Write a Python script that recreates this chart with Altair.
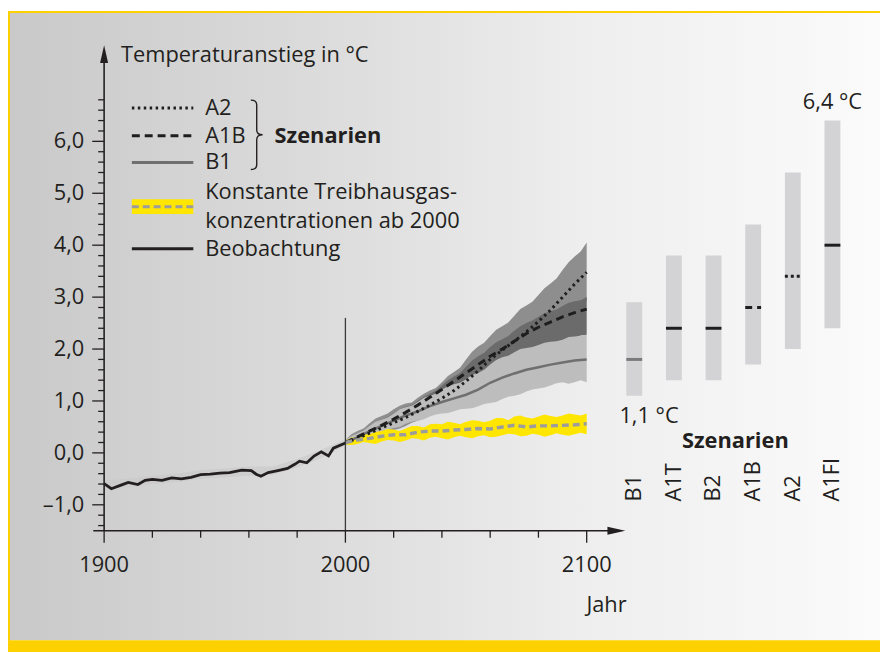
import altair as alt
import pandas as pd

# ---------------- data ----------------
obs_years = [1900, 1903, 1907, 1910, 1914, 1917, 1920, 1924, 1928, 1932, 1936, 1940,
             1944, 1948, 1952, 1957, 1961, 1963, 1965, 1968, 1972, 1976, 1979, 1981,
             1984, 1987, 1990, 1993, 1995, 2000]
obs_vals = [-0.59, -0.69, -0.62, -0.57, -0.61, -0.53, -0.51, -0.53, -0.48, -0.50, -0.47, -0.42,
            -0.41, -0.39, -0.38, -0.33, -0.34, -0.41, -0.45, -0.38, -0.34, -0.30, -0.22, -0.16,
            -0.19, -0.06, 0.02, -0.06, 0.09, 0.19]

obs_band_years = [1900, 1910, 1920, 1930, 1940, 1950, 1960, 1970, 1980, 1990, 2000]
obs_band_lo = [-0.68, -0.66, -0.60, -0.56, -0.50, -0.47, -0.44, -0.42, -0.28, -0.10, 0.14]
obs_band_hi = [-0.52, -0.50, -0.44, -0.40, -0.33, -0.30, -0.26, -0.26, -0.12, 0.06, 0.26]

# scenario means (5-year steps)
proj_years = [2000, 2005, 2010, 2015, 2020, 2025, 2030, 2035, 2040, 2045, 2050,
              2055, 2060, 2065, 2070, 2075, 2080, 2085, 2090, 2095, 2100]
a2_mean = [0.20, 0.28, 0.38, 0.48, 0.58, 0.68, 0.80, 0.92, 1.05, 1.20, 1.38,
           1.58, 1.80, 1.98, 2.15, 2.33, 2.53, 2.75, 3.00, 3.25, 3.48]
a1b_mean = [0.20, 0.31, 0.42, 0.53, 0.65, 0.78, 0.92, 1.07, 1.22, 1.38, 1.54,
            1.70, 1.86, 2.00, 2.15, 2.30, 2.42, 2.52, 2.62, 2.70, 2.77]
b1_mean = [0.20, 0.30, 0.42, 0.52, 0.62, 0.72, 0.80, 0.90, 0.98, 1.05, 1.12,
           1.22, 1.35, 1.45, 1.53, 1.60, 1.65, 1.70, 1.74, 1.78, 1.80]
const_mean = [0.20, 0.25, 0.28, 0.32, 0.35, 0.35, 0.40, 0.42, 0.42, 0.44, 0.45,
              0.47, 0.46, 0.50, 0.53, 0.50, 0.52, 0.52, 0.53, 0.54, 0.56]

# spread bands (2.5-year steps)
band_years = [2000, 2002.5, 2005, 2007.5, 2010, 2012.5, 2015, 2017.5, 2020, 2022.5, 2025,
              2027.5, 2030, 2032.5, 2035, 2037.5, 2040, 2042.5, 2045, 2047.5, 2050,
              2052.5, 2055, 2057.5, 2060, 2062.5, 2065, 2067.5, 2070, 2072.5, 2075,
              2077.5, 2080, 2082.5, 2085, 2087.5, 2090, 2092.5, 2095, 2097.5, 2100]
a2_lo = [0.15, 0.16, 0.20, 0.25, 0.28, 0.30, 0.36, 0.41, 0.44, 0.47, 0.52, 0.58, 0.62, 0.66,
         0.72, 0.78, 0.82, 0.86, 0.95, 1.04, 1.10, 1.17, 1.28, 1.38, 1.46, 1.52, 1.62, 1.70,
         1.76, 1.82, 1.92, 2.02, 2.08, 2.16, 2.28, 2.41, 2.50, 2.58, 2.72, 2.84, 2.92]
a2_hi = [0.25, 0.36, 0.42, 0.47, 0.57, 0.66, 0.71, 0.76, 0.84, 0.91, 0.95, 0.97, 1.06, 1.14,
         1.20, 1.25, 1.36, 1.48, 1.56, 1.64, 1.80, 1.95, 2.05, 2.12, 2.25, 2.37, 2.44, 2.51,
         2.64, 2.77, 2.84, 2.91, 3.04, 3.17, 3.26, 3.36, 3.52, 3.67, 3.78, 3.88, 4.05]
a1b_lo = [0.16, 0.18, 0.24, 0.30, 0.33, 0.36, 0.42, 0.49, 0.52, 0.55, 0.62, 0.69, 0.74, 0.78,
          0.86, 0.93, 0.98, 1.02, 1.10, 1.18, 1.24, 1.29, 1.38, 1.46, 1.52, 1.56, 1.64, 1.72,
          1.77, 1.81, 1.90, 1.97, 2.00, 2.02, 2.08, 2.14, 2.16, 2.17, 2.22, 2.26, 2.27]
a1b_hi = [0.24, 0.33, 0.38, 0.43, 0.51, 0.59, 0.64, 0.69, 0.77, 0.84, 0.89, 0.92, 1.00, 1.08,
          1.14, 1.20, 1.30, 1.40, 1.47, 1.54, 1.66, 1.78, 1.86, 1.93, 2.04, 2.13, 2.19, 2.25,
          2.35, 2.44, 2.50, 2.55, 2.62, 2.69, 2.73, 2.76, 2.83, 2.89, 2.92, 2.94, 3.00]
b1_lo = [0.15, 0.17, 0.22, 0.28, 0.32, 0.34, 0.40, 0.45, 0.48, 0.50, 0.56, 0.60, 0.62, 0.65,
         0.70, 0.74, 0.76, 0.77, 0.80, 0.84, 0.85, 0.86, 0.90, 0.94, 0.96, 0.98, 1.04, 1.08,
         1.10, 1.13, 1.18, 1.22, 1.24, 1.26, 1.30, 1.34, 1.36, 1.33, 1.36, 1.40, 1.36]
b1_hi = [0.25, 0.33, 0.38, 0.43, 0.52, 0.60, 0.64, 0.68, 0.76, 0.84, 0.88, 0.91, 0.98, 1.06,
         1.10, 1.14, 1.22, 1.28, 1.32, 1.35, 1.42, 1.50, 1.54, 1.60, 1.70, 1.79, 1.84, 1.87,
         1.94, 2.00, 2.02, 2.04, 2.08, 2.12, 2.14, 2.15, 2.18, 2.23, 2.24, 2.25, 2.28]
const_lo = [0.16, 0.15, 0.17, 0.21, 0.19, 0.17, 0.22, 0.25, 0.24, 0.21, 0.24, 0.28, 0.27, 0.24,
            0.29, 0.31, 0.28, 0.26, 0.30, 0.33, 0.30, 0.28, 0.32, 0.34, 0.30, 0.31, 0.34, 0.37,
            0.36, 0.32, 0.33, 0.37, 0.35, 0.31, 0.34, 0.38, 0.35, 0.33, 0.36, 0.39, 0.36]
const_hi = [0.24, 0.29, 0.31, 0.36, 0.36, 0.40, 0.42, 0.46, 0.45, 0.42, 0.47, 0.52, 0.52, 0.49,
            0.55, 0.56, 0.55, 0.60, 0.58, 0.55, 0.60, 0.63, 0.62, 0.59, 0.62, 0.67, 0.67, 0.63,
            0.70, 0.72, 0.68, 0.66, 0.70, 0.74, 0.71, 0.69, 0.72, 0.76, 0.74, 0.72, 0.76]

scenarios = ["B1", "A1T", "B2", "A1B", "A2", "A1FI"]
scen_low = [1.1, 1.4, 1.4, 1.7, 2.0, 2.4]
scen_high = [2.9, 3.8, 3.8, 4.4, 5.4, 6.4]
scen_best = [1.8, 2.4, 2.4, 2.8, 3.4, 4.0]

ytick_major = [-1, 0, 1, 2, 3, 4, 5, 6]
ytick_labels = ["–1,0", "0,0", "1,0", "2,0", "3,0", "4,0", "5,0", "6,0"]
ytick_minor = [v / 10 for v in range(-14, 70, 2) if v % 10 != 0]
xtick_major = [1900, 2000, 2100]
xtick_labels = ["1900", "2000", "2100"]
xtick_minor = [1920, 1940, 1960, 1980, 2020, 2040, 2060, 2080]

# ---------------- layout ----------------
W, H = 880, 647
X0_PX, PX_YR = 97, 2.435      # plot-x of 1900, pixels per year
Y0_PX, PX_C = 446, 52.4       # plot-y of 0 °C, pixels per °C
XAXIS_V = -1.5                # value where the x axis sits
xs = alt.Scale(domain=[1900 - X0_PX / PX_YR, 1900 + (W - X0_PX) / PX_YR], nice=False, zero=False)
ys = alt.Scale(domain=[(Y0_PX - H) / PX_C, Y0_PX / PX_C], nice=False, zero=False)
SLOT0, SLOT_W = 632, 40
ss = alt.Scale(domain=[-SLOT0 / SLOT_W, (W - SLOT0) / SLOT_W], nice=False, zero=False)

INK = "#231f20"
FONT = "Open Sans"
FS = 22
one = pd.DataFrame({"k": [0]})


def X(f):
    return alt.X(f, scale=xs, axis=None)


def Y(f):
    return alt.Y(f, scale=ys, axis=None)


def txt(s, x, y, align="left", bold=False, size=FS, **kw):
    return alt.Chart(one).mark_text(
        text=s, font=FONT, fontSize=size, color=INK, align=align, baseline="middle",
        fontWeight="bold" if bold else "normal", **kw
    ).encode(x=alt.value(x), y=alt.value(y))


layers = []

# background + borders
grad = alt.Gradient(gradient="linear", x1=0, x2=1, y1=0, y2=0, stops=[
    alt.GradientStop(color="#c9c9c9", offset=0),
    alt.GradientStop(color="#dddddd", offset=0.38),
    alt.GradientStop(color="#eeeeee", offset=0.66),
    alt.GradientStop(color="#fbfbfb", offset=1)])
layers.append(alt.Chart(one).mark_rect(fill=grad).encode(
    x=alt.value(2), x2=alt.value(W), y=alt.value(2), y2=alt.value(635)))
YEL = "#fdd000"
layers.append(alt.Chart(one).mark_rect(color=YEL).encode(
    x=alt.value(0), x2=alt.value(W), y=alt.value(0), y2=alt.value(2)))
layers.append(alt.Chart(one).mark_rect(color=YEL).encode(
    x=alt.value(0), x2=alt.value(2), y=alt.value(0), y2=alt.value(H)))
layers.append(alt.Chart(one).mark_rect(color=YEL).encode(
    x=alt.value(0), x2=alt.value(W), y=alt.value(635), y2=alt.value(H)))

# observation spread band
obs_band = pd.DataFrame({"year": obs_band_years, "lo": obs_band_lo, "hi": obs_band_hi})
layers.append(alt.Chart(obs_band).mark_area(color="#c8c8c8", opacity=0.6).encode(
    x=X("year:Q"), y=Y("lo:Q"), y2="hi:Q"))


# projection bands
def band(lo, hi, color):
    df = pd.DataFrame({"year": band_years, "lo": lo, "hi": hi})
    return alt.Chart(df).mark_area(color=color, opacity=1).encode(
        x=X("year:Q"), y=Y("lo:Q"), y2="hi:Q")


layers.append(band(a2_lo, a2_hi, "#8e8e8e"))
layers.append(band(a1b_lo, a1b_hi, "#6b6b6b"))
layers.append(band(b1_lo, b1_hi, "#bdbdbd"))
layers.append(band(const_lo, const_hi, "#ffe600"))


# projection lines
def pline(vals, color, dash=None, width=3):
    df = pd.DataFrame({"year": proj_years, "v": vals})
    kw = {"strokeDash": dash} if dash else {}
    return alt.Chart(df).mark_line(color=color, strokeWidth=width, **kw).encode(
        x=X("year:Q"), y=Y("v:Q"))


layers.append(pline(b1_mean, "#6f6f6f", width=2.5))
layers.append(pline(a1b_mean, "#1e1e1e", dash=[8, 5]))
layers.append(pline(a2_mean, "#1e1e1e", dash=[2.5, 3.5]))
layers.append(pline(const_mean, "#9c9c9c", dash=[7, 4], width=3.5))

# observations
obs = pd.DataFrame({"year": obs_years, "v": obs_vals})
layers.append(alt.Chart(obs).mark_line(color=INK, strokeWidth=2.8).encode(
    x=X("year:Q"), y=Y("v:Q")))

# vertical line at 2000
vline = pd.DataFrame({"year": [2000], "y0": [XAXIS_V], "y1": [2.6]})
layers.append(alt.Chart(vline).mark_rule(color="#3a3a3a", strokeWidth=1.3).encode(
    x=X("year:Q"), y=Y("y0:Q"), y2="y1:Q"))

# axes lines
yax = pd.DataFrame({"year": [1900], "y0": [XAXIS_V], "y1": [7.6]})
layers.append(alt.Chart(yax).mark_rule(color=INK, strokeWidth=1.6).encode(
    x=X("year:Q"), y=Y("y0:Q"), y2="y1:Q"))
xax = pd.DataFrame({"x0": [1895.5], "x1": [2112], "y": [XAXIS_V]})
layers.append(alt.Chart(xax).mark_rule(color=INK, strokeWidth=1.6).encode(
    x=X("x0:Q"), x2="x1:Q", y=Y("y:Q")))
# arrow heads
arr_up = pd.DataFrame({"year": [1900], "v": [7.68]})
layers.append(alt.Chart(arr_up).mark_point(
    shape="M0,-1L0.45,1L-0.45,1Z", size=324, filled=True, opacity=1, color=INK).encode(
    x=X("year:Q"), y=Y("v:Q")))
arr_rt = pd.DataFrame({"year": [2112.3], "v": [XAXIS_V]})
layers.append(alt.Chart(arr_rt).mark_point(
    shape="M1,0L-1,-0.45L-1,0.45Z", size=324, filled=True, opacity=1, color=INK).encode(
    x=X("year:Q"), y=Y("v:Q")))

# y ticks
yt = pd.DataFrame({"v": ytick_major + ytick_minor,
                   "len": [12] * len(ytick_major) + [6] * len(ytick_minor)})
layers.append(alt.Chart(yt).transform_calculate(
    x0=f"1900 - datum.len / {PX_YR}", x1="1900").mark_rule(color=INK, strokeWidth=1.3).encode(
    x=X("x0:Q"), x2="x1:Q", y=Y("v:Q")))
ytl = pd.DataFrame({"v": ytick_major, "t": ytick_labels})
layers.append(alt.Chart(ytl).mark_text(font=FONT, fontSize=FS, color=INK, align="right",
                                       baseline="middle").encode(
    x=alt.value(77), y=Y("v:Q"), text="t:N"))

# x ticks
xt = pd.DataFrame({"year": xtick_major + xtick_minor,
                   "len": [12] * len(xtick_major) + [7] * len(xtick_minor)})
layers.append(alt.Chart(xt).transform_calculate(
    y0=f"{XAXIS_V}", y1=f"{XAXIS_V} - datum.len / {PX_C}").mark_rule(color=INK, strokeWidth=1.3).encode(
    x=X("year:Q"), y=Y("y0:Q"), y2="y1:Q"))
xtl = pd.DataFrame({"year": xtick_major, "t": xtick_labels})
layers.append(alt.Chart(xtl).mark_text(font=FONT, fontSize=FS, color=INK, align="center",
                                       baseline="middle").encode(
    x=X("year:Q"), y=alt.value(559), text="t:N"))

# titles
layers.append(txt("Temperaturanstieg in °C", 114, 45))
layers.append(txt("Jahr", 604, 600, align="center"))

# legend
LX0, LX1 = 125, 187
layers.append(alt.Chart(one).mark_rule(color="#1e1e1e", strokeWidth=3, strokeDash=[2.5, 3.5]).encode(
    x=alt.value(LX0), x2=alt.value(LX1), y=alt.value(98)))
layers.append(alt.Chart(one).mark_rule(color="#1e1e1e", strokeWidth=3, strokeDash=[8, 5]).encode(
    x=alt.value(LX0), x2=alt.value(LX1), y=alt.value(126)))
layers.append(alt.Chart(one).mark_rule(color="#6f6f6f", strokeWidth=3).encode(
    x=alt.value(LX0), x2=alt.value(LX1), y=alt.value(153)))
layers.append(alt.Chart(one).mark_rect(color="#ffe600").encode(
    x=alt.value(LX0), x2=alt.value(LX1), y=alt.value(190), y2=alt.value(205)))
layers.append(alt.Chart(one).mark_rule(color="#9c9c9c", strokeWidth=3, strokeDash=[7, 4]).encode(
    x=alt.value(LX0), x2=alt.value(LX1), y=alt.value(197.5)))
layers.append(alt.Chart(one).mark_rule(color=INK, strokeWidth=3).encode(
    x=alt.value(LX0), x2=alt.value(LX1), y=alt.value(240)))
layers.append(txt("A2", 199, 98))
layers.append(txt("A1B", 199, 126))
layers.append(txt("B1", 199, 153))
layers.append(txt("Konstante Treibhausgas-", 199, 183))
layers.append(txt("konzentrationen ab 2000", 199, 212))
layers.append(txt("Beobachtung", 199, 240))
brace = "M-0.17,-1Q0,-1 0,-0.86L0,-0.14Q0,0 0.17,0Q0,0 0,0.14L0,0.86Q0,1 -0.17,1"
layers.append(alt.Chart(one).mark_point(shape=brace, size=4900, filled=False, opacity=1,
                                        color=INK, strokeWidth=1.4).encode(
    x=alt.value(251), y=alt.value(125)))
layers.append(txt("Szenarien", 269, 126, bold=True))

# scenario panel
sdf = pd.DataFrame({"scenario": scenarios, "slot": list(range(len(scenarios))),
                    "low": scen_low, "high": scen_high, "best": scen_best})
base = alt.Chart(sdf).transform_calculate(s0="datum.slot - 0.2", s1="datum.slot + 0.2")
layers.append(base.mark_rect(color="#d3d3d5").encode(
    x=alt.X("s0:Q", scale=ss, axis=None), x2="s1:Q", y=Y("low:Q"), y2="high:Q"))
for names, color, dash in [(["A1T", "B2", "A1FI"], "#1e1e1e", None),
                           (["B1"], "#7a7a7a", None),
                           (["A1B"], "#1e1e1e", [7, 5]),
                           (["A2"], "#1e1e1e", [3, 3])]:
    kw = {"strokeDash": dash} if dash else {}
    layers.append(base.transform_filter(alt.FieldOneOfPredicate(field="scenario", oneOf=names))
                  .mark_rule(color=color, strokeWidth=3, **kw).encode(
        x=alt.X("s0:Q", scale=ss, axis=None), x2="s1:Q", y=Y("best:Q")))
layers.append(alt.Chart(sdf).mark_text(font=FONT, fontSize=FS, color=INK, angle=270,
                                       align="left", baseline="middle").encode(
    x=alt.X("slot:Q", scale=ss, axis=None), y=alt.value(495), text="scenario:N"))
layers.append(txt("6,4 °C", 832, 92, align="center"))
layers.append(txt("1,1 °C", 617, 409))
layers.append(txt("Szenarien", 734, 434, align="center", bold=True))

chart = alt.layer(*layers).resolve_scale(x="independent").properties(
    width=W, height=H, padding=0, autosize="none", background="white"
).configure_view(stroke=None)

chart.save("out.html", embed_options={"renderer": "svg", "actions": False})
